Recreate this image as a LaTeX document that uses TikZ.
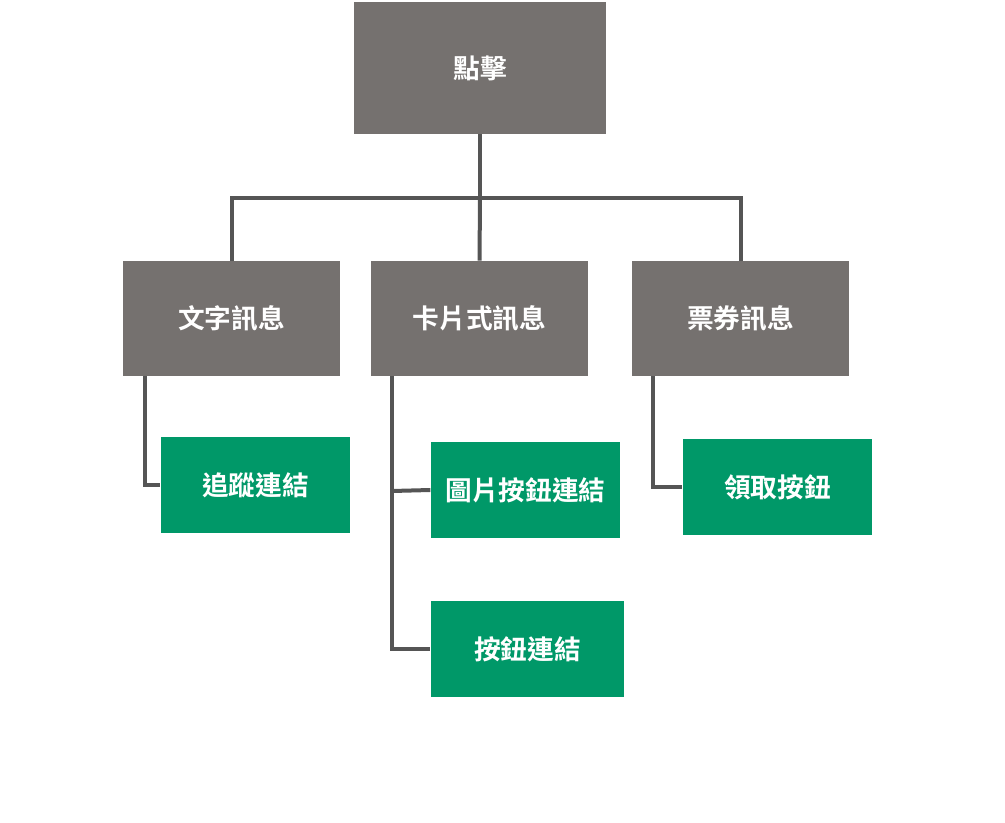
\documentclass[tikz,border=0pt]{standalone}
\usepackage{fontspec}
\newfontfamily\cjk{Noto Sans CJK TC Bold}[BoldFont={Noto Sans CJK TC Bold}]
\usetikzlibrary{positioning}
\definecolor{boxgray}{RGB}{117,113,111}
\definecolor{boxgreen}{RGB}{0,152,104}
\definecolor{linegray}{RGB}{85,85,85}
\tikzset{every picture/.style={line width=0.75pt}}
\tikzset{
  box/.style={draw=none,inner sep=0pt,text=white,font=\cjk\fontsize{20}{24}\selectfont},
  graybox/.style={box,fill=boxgray,minimum width=163pt,minimum height=86pt},
  greenbox/.style={box,fill=boxgreen,minimum width=142pt,minimum height=72pt},
  link/.style={draw=linegray,line width=3pt}
}
\begin{document}
\begin{tikzpicture}[x=0.75pt,y=0.75pt,yscale=-1]
\useasboundingbox (0,0) rectangle (1005,823);

% top
\node [graybox,minimum width=189pt,minimum height=99pt] (click) at (480,68) {點擊};
% message types
\node [graybox] (text) at (231.5,318.5) {文字訊息};
\node [graybox] (card) at (479.5,318.5) {卡片式訊息};
\node [graybox] (ticket) at (740.5,318.5) {票券訊息};
% actions
\node [greenbox] (track) at (255.5,485) {追蹤連結};
\node [greenbox] (imgbtn) at (525.5,490) {圖片按鈕連結};
\node [greenbox,minimum width=145pt] (btn) at (527.5,649) {按鈕連結};
\node [greenbox] (claim) at (777.5,487) {領取按鈕};

% tree links
\coordinate (split) at (480,198);
\draw [link] (click.south) -- (split);
\draw [link] (232,261) |- (split) -| (741,261);
\draw [link] (split) -- (card.north);
\draw [link] (145,376) |- (track.west);
\draw [link] (392,376) |- (btn.west);
\draw [link] (392,491) -- (imgbtn.west);
\draw [link] (653,376) |- (claim.west);

\end{tikzpicture}
\end{document}
